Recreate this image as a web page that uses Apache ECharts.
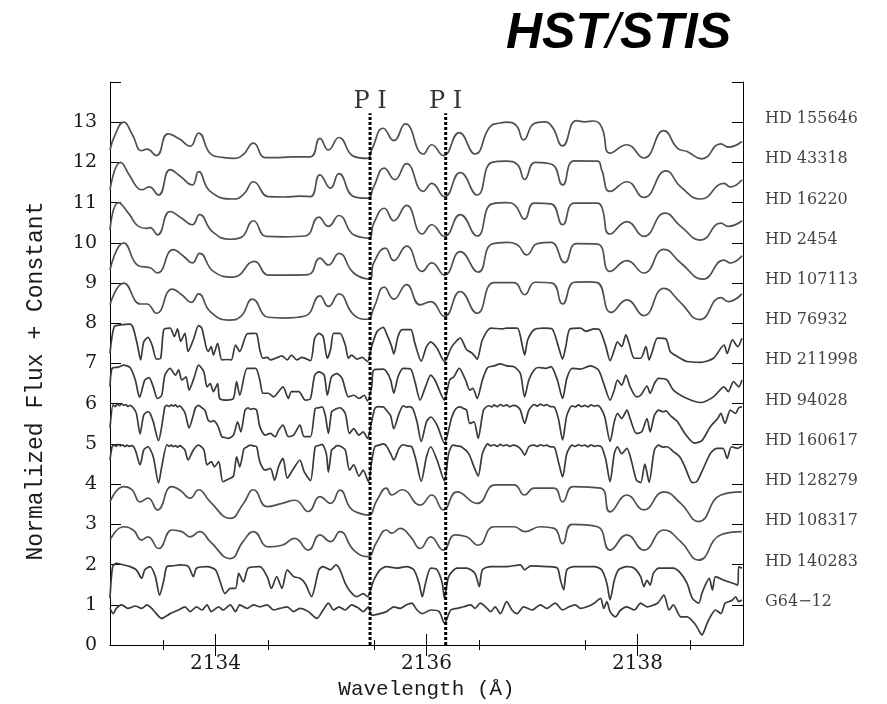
<!DOCTYPE html>
<html>
<head>
<meta charset="utf-8">
<script src="https://cdn.jsdelivr.net/npm/echarts@6/dist/echarts.min.js"></script>
<style>
  html, body { margin: 0; padding: 0; background: #fff; }
  #chart { width: 887px; height: 704px; }
</style>
</head>
<body>
<div id="chart"></div>
<script>
// Normalized flux spectra, [wavelength (Å), flux], shifted upward by a constant per star.
const stars = ['HD 155646', 'HD 43318', 'HD 16220', 'HD 2454', 'HD 107113', 'HD 76932',
  'HD 211998', 'HD 94028', 'HD 160617', 'HD 128279', 'HD 108317', 'HD 140283', 'G64\u221212'];
const offsets = [12, 11, 10, 9, 8, 7, 6, 5, 4, 3, 2, 1, 0];

// Wavelengths of the two P I lines
const pLines = [2135.465, 2136.182];
const pLineTop = 13.22;
const pLabel = 'P I';

const xTickLabels = [2134, 2136, 2138];

const hd155646 = [[2133.00,.31],[2133.05,.70],[2133.13,1.00],[2133.21,.70],[2133.30,.29],[2133.35,.33],[2133.44,.17],[2133.55,.71],[2133.66,.58],[2133.76,.40],[2133.84,.73],[2133.96,.20],[2134.08,.12],[2134.17,.10],[2134.26,.19],[2134.36,.48],[2134.47,.12],[2134.60,.12],[2134.75,.14],[2134.90,.14],[2134.99,.60],[2135.07,.31],[2135.17,.62],[2135.31,.15],[2135.44,.10],[2135.48,.31],[2135.59,.85],[2135.69,.54],[2135.80,.96],[2135.97,.21],[2136.05,.44],[2136.16,.17],[2136.31,.74],[2136.46,.21],[2136.61,.91],[2136.70,.98],[2136.76,1.00],[2136.85,.92],[2136.92,.56],[2137.02,.97],[2137.11,1.01],[2137.19,.89],[2137.29,.41],[2137.42,1.04],[2137.50,1.01],[2137.58,1.03],[2137.66,.88],[2137.74,.23],[2137.90,.44],[2138.06,.11],[2138.25,.79],[2138.38,.35],[2138.47,.27],[2138.61,.09],[2138.79,.46],[2138.86,.38],[2138.99,.52]];

const hd43318 = [[2133.00,.32],[2133.10,1.00],[2133.18,.70],[2133.25,.40],[2133.30,.32],[2133.37,.39],[2133.46,.19],[2133.57,.82],[2133.66,.67],[2133.78,.44],[2133.84,.77],[2133.95,.28],[2134.17,.09],[2134.27,.22],[2134.36,.52],[2134.50,.15],[2134.65,.14],[2134.80,.16],[2134.90,.15],[2134.99,.69],[2135.09,.36],[2135.17,.72],[2135.31,.15],[2135.44,.11],[2135.50,.40],[2135.60,.86],[2135.70,.57],[2135.81,.97],[2135.97,.28],[2136.05,.48],[2136.17,.15],[2136.32,.75],[2136.48,.19],[2136.62,1.00],[2136.76,1.03],[2136.86,.95],[2136.93,.58],[2137.03,1.00],[2137.19,.95],[2137.29,.44],[2137.40,1.04],[2137.62,1.03],[2137.66,.82],[2137.74,.28],[2137.90,.52],[2138.06,.13],[2138.27,.79],[2138.41,.39],[2138.60,.09],[2138.82,.48],[2138.88,.39],[2138.99,.57]];

const hd16220 = [[2133.00,.32],[2133.08,1.00],[2133.18,.72],[2133.27,.41],[2133.35,.36],[2133.38,.38],[2133.45,.20],[2133.57,.78],[2133.68,.61],[2133.78,.45],[2133.85,.70],[2133.97,.28],[2134.14,.09],[2134.24,.13],[2134.36,.55],[2134.48,.16],[2134.65,.15],[2134.85,.17],[2134.98,.64],[2135.07,.41],[2135.17,.68],[2135.31,.20],[2135.45,.12],[2135.50,.49],[2135.60,.86],[2135.69,.55],[2135.81,.93],[2135.96,.22],[2136.05,.45],[2136.17,.16],[2136.32,.70],[2136.48,.17],[2136.62,.97],[2136.76,1.00],[2136.84,.93],[2136.93,.59],[2137.02,.99],[2137.18,.97],[2137.29,.45],[2137.40,.99],[2137.62,.99],[2137.66,.90],[2137.74,.22],[2137.90,.53],[2138.06,.16],[2138.26,.74],[2138.41,.41],[2138.60,.07],[2138.79,.49],[2138.86,.41],[2138.99,.55]];

const hd2454 = [[2133.00,.33],[2133.13,1.00],[2133.27,.43],[2133.38,.38],[2133.45,.25],[2133.60,.83],[2133.70,.66],[2133.78,.50],[2133.85,.74],[2133.98,.29],[2134.17,.15],[2134.37,.54],[2134.50,.20],[2134.70,.20],[2134.88,.21],[2134.99,.62],[2135.07,.45],[2135.17,.74],[2135.31,.25],[2135.46,.10],[2135.50,.50],[2135.61,.87],[2135.69,.56],[2135.81,.92],[2135.96,.29],[2136.05,.50],[2136.17,.20],[2136.32,.78],[2136.49,.27],[2136.62,.97],[2136.76,1.01],[2136.86,.95],[2136.95,.70],[2137.05,.98],[2137.18,1.01],[2137.31,.51],[2137.42,.98],[2137.62,.97],[2137.74,.29],[2137.90,.56],[2138.06,.25],[2138.25,.84],[2138.41,.50],[2138.62,.10],[2138.82,.57],[2138.88,.50],[2138.99,.68]];

const hd107113 = [[2133.00,.46],[2133.13,1.00],[2133.29,.48],[2133.35,.48],[2133.44,.25],[2133.59,.85],[2133.68,.71],[2133.77,.52],[2133.84,.73],[2133.95,.29],[2134.13,.08],[2134.24,.17],[2134.35,.60],[2134.50,.15],[2134.65,.13],[2134.85,.18],[2134.99,.68],[2135.07,.42],[2135.17,.73],[2135.31,.21],[2135.44,.10],[2135.50,.38],[2135.60,.90],[2135.69,.60],[2135.81,.96],[2135.94,.46],[2136.04,.54],[2136.17,.17],[2136.32,.79],[2136.48,.25],[2136.64,1.01],[2136.83,1.01],[2136.93,.71],[2137.03,1.02],[2137.19,1.00],[2137.29,.48],[2137.40,1.02],[2137.53,1.03],[2137.62,1.01],[2137.75,.27],[2137.90,.58],[2138.06,.19],[2138.25,.87],[2138.40,.54],[2138.59,.09],[2138.79,.64],[2138.86,.54],[2138.99,.73]];

const hd76932 = [[2133.00,.26],[2133.04,.92],[2133.10,.96],[2133.19,.98],[2133.22,.88],[2133.26,.46],[2133.29,.09],[2133.32,.54],[2133.36,.65],[2133.40,.45],[2133.44,.11],[2133.48,.13],[2133.51,.84],[2133.57,.88],[2133.61,.67],[2133.64,.86],[2133.67,.55],[2133.71,.75],[2133.74,.30],[2133.79,.59],[2133.84,.94],[2133.87,.88],[2133.91,.42],[2133.93,.30],[2133.96,.42],[2133.98,.21],[2134.02,.50],[2134.06,.09],[2134.11,.10],[2134.15,.09],[2134.19,.46],[2134.23,.30],[2134.30,.74],[2134.36,.75],[2134.39,.74],[2134.42,.34],[2134.45,.13],[2134.49,.15],[2134.52,.09],[2134.57,.13],[2134.63,.19],[2134.68,.09],[2134.72,.21],[2134.77,.09],[2134.82,.15],[2134.90,.07],[2134.94,.63],[2134.98,.75],[2135.02,.67],[2135.06,.13],[2135.09,.34],[2135.12,.75],[2135.18,.75],[2135.23,.46],[2135.26,.13],[2135.29,.21],[2135.34,.11],[2135.39,.15],[2135.44,.05],[2135.48,.42],[2135.53,.79],[2135.59,.90],[2135.62,.75],[2135.67,.42],[2135.69,.24],[2135.73,.67],[2135.77,.84],[2135.85,.84],[2135.89,.50],[2135.95,.06],[2136.00,.42],[2136.04,.54],[2136.10,.38],[2136.17,.05],[2136.24,.42],[2136.32,.63],[2136.38,.34],[2136.42,.28],[2136.45,.21],[2136.48,.11],[2136.53,.59],[2136.61,.88],[2136.72,.86],[2136.76,.88],[2136.86,.88],[2136.91,.42],[2136.93,.21],[2136.96,.59],[2137.02,.84],[2137.11,.88],[2137.19,.86],[2137.25,.42],[2137.29,.11],[2137.32,.42],[2137.36,.86],[2137.46,.88],[2137.51,.80],[2137.59,.86],[2137.64,.84],[2137.70,.42],[2137.74,.07],[2137.78,.34],[2137.81,.54],[2137.85,.42],[2137.89,.71],[2137.92,.50],[2137.97,.13],[2138.03,.13],[2138.08,.42],[2138.11,.09],[2138.14,.30],[2138.19,.63],[2138.27,.61],[2138.31,.30],[2138.38,.17],[2138.47,.05],[2138.60,.03],[2138.72,.13],[2138.82,.46],[2138.85,.25],[2138.90,.59],[2138.95,.42],[2138.99,.63]];

const hd211998 = [[2133.00,.42],[2133.02,.88],[2133.08,.91],[2133.13,.96],[2133.19,.90],[2133.24,.59],[2133.28,.16],[2133.33,.59],[2133.37,.65],[2133.41,.42],[2133.45,.13],[2133.49,.21],[2133.52,.71],[2133.57,.88],[2133.62,.71],[2133.65,.84],[2133.68,.59],[2133.72,.67],[2133.75,.34],[2133.80,.67],[2133.84,.96],[2133.89,.79],[2133.92,.42],[2133.95,.50],[2133.98,.30],[2134.02,.50],[2134.04,.13],[2134.11,.09],[2134.17,.13],[2134.20,.55],[2134.23,.21],[2134.30,.88],[2134.38,.88],[2134.42,.59],[2134.45,.26],[2134.50,.26],[2134.55,.17],[2134.64,.42],[2134.69,.13],[2134.72,.30],[2134.79,.30],[2134.85,.09],[2134.90,.13],[2134.94,.71],[2134.98,.79],[2135.03,.71],[2135.06,.21],[2135.10,.67],[2135.15,.75],[2135.20,.63],[2135.26,.17],[2135.31,.21],[2135.36,.13],[2135.41,.21],[2135.44,.07],[2135.48,.42],[2135.50,.84],[2135.59,.86],[2135.62,.80],[2135.66,.59],[2135.69,.26],[2135.73,.67],[2135.78,.88],[2135.85,.86],[2135.89,.55],[2135.94,.09],[2135.99,.42],[2136.04,.71],[2136.08,.59],[2136.17,.09],[2136.22,.59],[2136.26,.67],[2136.31,.88],[2136.37,.59],[2136.41,.34],[2136.44,.38],[2136.48,.13],[2136.53,.59],[2136.58,.90],[2136.64,.94],[2136.70,.99],[2136.76,.94],[2136.83,.92],[2136.89,.75],[2136.93,.17],[2136.97,.59],[2137.02,.84],[2137.06,.90],[2137.13,.88],[2137.18,.92],[2137.24,.59],[2137.29,.13],[2137.33,.63],[2137.38,.88],[2137.46,.86],[2137.55,.94],[2137.63,.84],[2137.68,.50],[2137.74,.09],[2137.78,.34],[2137.81,.59],[2137.85,.46],[2137.89,.71],[2137.93,.42],[2137.99,.17],[2138.03,.21],[2138.09,.44],[2138.12,.26],[2138.16,.50],[2138.20,.63],[2138.28,.59],[2138.34,.34],[2138.47,.13],[2138.60,.03],[2138.72,.17],[2138.82,.42],[2138.86,.30],[2138.91,.55],[2138.96,.42],[2138.99,.59]];

const hd94028 = [[2133.00,.40],[2133.03,.97],[2133.05,.93],[2133.07,.99],[2133.09,.95],[2133.11,1.00],[2133.13,.96],[2133.15,.98],[2133.17,.93],[2133.19,.96],[2133.22,.90],[2133.25,.76],[2133.285,.25],[2133.32,.72],[2133.36,.80],[2133.38,.76],[2133.41,.55],[2133.46,.08],[2133.49,.43],[2133.52,.92],[2133.54,.96],[2133.56,.93],[2133.58,.97],[2133.60,.94],[2133.62,.97],[2133.64,.92],[2133.66,.95],[2133.68,.90],[2133.71,.78],[2133.75,.40],[2133.79,.72],[2133.81,.90],[2133.84,.96],[2133.87,.90],[2133.90,.84],[2133.93,.59],[2133.96,.55],[2133.98,.58],[2134.01,.51],[2134.03,.40],[2134.06,.18],[2134.09,.16],[2134.12,.14],[2134.17,.22],[2134.21,.55],[2134.24,.30],[2134.28,.84],[2134.31,.90],[2134.33,.86],[2134.36,.88],[2134.39,.84],[2134.42,.43],[2134.47,.22],[2134.52,.26],[2134.565,.18],[2134.60,.35],[2134.64,.47],[2134.69,.18],[2134.74,.22],[2134.80,.47],[2134.84,.18],[2134.90,.18],[2134.945,.88],[2134.98,.90],[2135.01,.92],[2135.04,.72],[2135.07,.26],[2135.10,.80],[2135.12,.84],[2135.15,.88],[2135.18,.90],[2135.23,.76],[2135.27,.26],[2135.31,.38],[2135.36,.22],[2135.40,.30],[2135.44,.14],[2135.48,.55],[2135.51,.88],[2135.54,.93],[2135.56,.92],[2135.59,.92],[2135.62,.84],[2135.66,.70],[2135.69,.38],[2135.74,.76],[2135.78,.95],[2135.81,.91],[2135.84,.93],[2135.87,.88],[2135.91,.55],[2135.95,.06],[2136.00,.55],[2136.04,.67],[2136.10,.47],[2136.17,.02],[2136.24,.67],[2136.28,.88],[2136.32,.92],[2136.35,.88],[2136.38,.84],[2136.41,.51],[2136.45,.55],[2136.49,.14],[2136.54,.84],[2136.59,.95],[2136.62,.92],[2136.64,.97],[2136.67,.93],[2136.70,.98],[2136.73,.94],[2136.76,.97],[2136.79,.92],[2136.82,.96],[2136.86,.93],[2136.89,.84],[2136.93,.51],[2136.97,.84],[2137.02,.98],[2137.05,.94],[2137.08,.99],[2137.11,.95],[2137.14,.98],[2137.17,.93],[2137.21,.92],[2137.25,.63],[2137.29,.10],[2137.33,.71],[2137.38,.95],[2137.41,.92],[2137.44,.97],[2137.47,.93],[2137.50,.96],[2137.53,.92],[2137.56,.97],[2137.59,.94],[2137.62,.96],[2137.65,.90],[2137.69,.67],[2137.74,.06],[2137.78,.55],[2137.81,.76],[2137.85,.63],[2137.90,.84],[2137.93,.63],[2137.99,.26],[2138.04,.30],[2138.09,.63],[2138.12,.30],[2138.16,.71],[2138.20,.84],[2138.24,.80],[2138.27,.82],[2138.31,.71],[2138.35,.62],[2138.38,.55],[2138.46,.22],[2138.54,.02],[2138.61,.08],[2138.69,.43],[2138.76,.63],[2138.79,.76],[2138.83,.51],[2138.88,.84],[2138.93,.76],[2138.96,.90],[2138.99,.92]];

const hd160617 = [[2133.00,.60],[2133.02,.93],[2133.04,.97],[2133.06,.94],[2133.08,.99],[2133.10,.95],[2133.12,.98],[2133.14,.93],[2133.16,.97],[2133.18,.94],[2133.21,.96],[2133.24,.85],[2133.285,.48],[2133.32,.85],[2133.36,.93],[2133.41,.68],[2133.46,.03],[2133.49,.43],[2133.54,.98],[2133.56,.94],[2133.58,.97],[2133.60,.93],[2133.62,.96],[2133.64,.92],[2133.66,.96],[2133.68,.93],[2133.71,.85],[2133.74,.60],[2133.79,.85],[2133.84,.97],[2133.89,.85],[2133.92,.48],[2133.96,.56],[2133.99,.43],[2134.03,.56],[2134.07,.06],[2134.12,.12],[2134.17,.20],[2134.20,.68],[2134.23,.43],[2134.27,.88],[2134.30,.93],[2134.33,.97],[2134.36,.95],[2134.39,.93],[2134.42,.56],[2134.47,.35],[2134.52,.39],[2134.56,.10],[2134.60,.45],[2134.64,.64],[2134.68,.15],[2134.74,.39],[2134.80,.60],[2134.84,.31],[2134.90,.09],[2134.945,.93],[2134.98,.96],[2135.01,.99],[2135.05,.76],[2135.07,.30],[2135.10,.85],[2135.12,.89],[2135.15,.96],[2135.18,.95],[2135.23,.85],[2135.27,.35],[2135.31,.48],[2135.36,.20],[2135.40,.35],[2135.45,.06],[2135.48,.56],[2135.51,.93],[2135.55,.97],[2135.59,1.00],[2135.62,.95],[2135.66,.76],[2135.69,.60],[2135.74,.89],[2135.78,.98],[2135.82,.95],[2135.86,.93],[2135.90,.60],[2135.95,.07],[2136.00,.68],[2136.04,.93],[2136.10,.60],[2136.17,.08],[2136.21,.76],[2136.25,.97],[2136.29,.95],[2136.33,.93],[2136.40,.76],[2136.45,.43],[2136.49,.20],[2136.53,.76],[2136.58,1.00],[2136.61,.95],[2136.64,.98],[2136.67,.94],[2136.70,.99],[2136.73,.95],[2136.76,.98],[2136.79,.94],[2136.82,.97],[2136.86,.94],[2136.90,.85],[2136.93,.72],[2136.97,.93],[2137.02,.97],[2137.05,.94],[2137.08,.98],[2137.11,.95],[2137.14,.97],[2137.17,.93],[2137.21,.92],[2137.25,.56],[2137.29,.18],[2137.33,.76],[2137.38,.97],[2137.41,.94],[2137.44,.98],[2137.47,.95],[2137.50,.97],[2137.53,.93],[2137.56,.98],[2137.59,.94],[2137.62,.96],[2137.66,.92],[2137.70,.60],[2137.74,.06],[2137.78,.76],[2137.81,.93],[2137.85,.76],[2137.90,.89],[2137.94,.60],[2137.99,.10],[2138.03,.04],[2138.07,.50],[2138.11,.05],[2138.16,.85],[2138.20,.97],[2138.24,.92],[2138.28,.93],[2138.34,.81],[2138.40,.68],[2138.45,.43],[2138.52,.04],[2138.56,.06],[2138.61,.31],[2138.69,.76],[2138.75,.89],[2138.81,.89],[2138.85,.64],[2138.89,.93],[2138.95,.89],[2138.99,.95]];

const hd128279 = [[2133.00,.56],[2133.13,.94],[2133.21,.86],[2133.285,.56],[2133.36,.65],[2133.45,.36],[2133.585,.94],[2133.664,.85],[2133.76,.65],[2133.84,.86],[2133.95,.56],[2134.14,.15],[2134.265,.52],[2134.36,.86],[2134.49,.44],[2134.63,.52],[2134.755,.60],[2134.88,.32],[2134.99,.69],[2135.09,.52],[2135.18,.85],[2135.28,.40],[2135.36,.28],[2135.45,.23],[2135.53,.60],[2135.62,.90],[2135.67,.73],[2135.77,.86],[2135.94,.48],[2136.05,.73],[2136.16,.36],[2136.29,.81],[2136.48,.52],[2136.65,.98],[2136.83,.98],[2136.93,.73],[2137.02,.90],[2137.21,.90],[2137.29,.56],[2137.39,.94],[2137.65,.90],[2137.74,.31],[2137.90,.73],[2138.06,.36],[2138.25,.81],[2138.41,.52],[2138.58,.07],[2138.79,.73],[2138.99,.81]];

const hd108317 = [[2133.00,.61],[2133.13,.94],[2133.22,.86],[2133.30,.61],[2133.36,.69],[2133.46,.40],[2133.59,.86],[2133.68,.82],[2133.76,.69],[2133.85,.82],[2133.95,.57],[2134.14,.15],[2134.26,.57],[2134.36,.82],[2134.50,.44],[2134.63,.48],[2134.75,.65],[2134.88,.36],[2134.99,.74],[2135.09,.57],[2135.18,.82],[2135.31,.36],[2135.44,.20],[2135.53,.57],[2135.62,.86],[2135.67,.78],[2135.75,.90],[2135.85,.69],[2135.94,.40],[2136.04,.69],[2136.16,.36],[2136.27,.74],[2136.38,.69],[2136.49,.48],[2136.64,.94],[2136.83,.94],[2136.93,.82],[2137.08,.94],[2137.21,.90],[2137.29,.52],[2137.38,1.00],[2137.62,.94],[2137.74,.36],[2137.90,.74],[2138.06,.36],[2138.25,.86],[2138.41,.57],[2138.58,.11],[2138.79,.74],[2138.99,.82]];

const hd140283 = [[2133.00,.16],[2133.025,.95],[2133.06,1.03],[2133.13,.99],[2133.19,.95],[2133.25,.87],[2133.30,.66],[2133.33,.87],[2133.38,.95],[2133.43,.70],[2133.47,.24],[2133.51,.61],[2133.54,.95],[2133.60,.97],[2133.664,.99],[2133.743,.95],[2133.79,.70],[2133.82,.91],[2133.92,.95],[2134.00,.87],[2134.04,.61],[2134.09,.28],[2134.14,.41],[2134.19,.41],[2134.22,.78],[2134.265,.57],[2134.31,.91],[2134.42,.95],[2134.49,.70],[2134.53,.41],[2134.58,.70],[2134.63,.41],[2134.68,.87],[2134.74,.70],[2134.80,.66],[2134.85,.53],[2134.91,.20],[2134.98,.87],[2135.02,.95],[2135.09,.87],[2135.14,.99],[2135.18,.87],[2135.23,.53],[2135.28,.32],[2135.34,.20],[2135.40,.28],[2135.44,.20],[2135.50,.61],[2135.56,.87],[2135.62,.95],[2135.72,.91],[2135.81,.95],[2135.88,.87],[2135.93,.53],[2135.96,.20],[2135.99,.53],[2136.04,.91],[2136.10,.87],[2136.15,.53],[2136.17,.16],[2136.21,.70],[2136.29,.91],[2136.38,.91],[2136.46,.78],[2136.50,.45],[2136.53,.87],[2136.61,.95],[2136.76,.95],[2136.89,.99],[2136.93,.87],[2136.99,.97],[2137.14,.95],[2137.24,.91],[2137.27,.61],[2137.30,.37],[2137.33,.87],[2137.40,.95],[2137.59,.95],[2137.66,.87],[2137.71,.53],[2137.74,.12],[2137.78,.61],[2137.82,.87],[2137.90,.95],[2137.97,.91],[2138.03,.70],[2138.06,.45],[2138.09,.61],[2138.12,.49],[2138.15,.78],[2138.20,.91],[2138.34,.91],[2138.41,.78],[2138.47,.53],[2138.52,.16],[2138.58,.04],[2138.61,.28],[2138.65,.53],[2138.68,.66],[2138.71,.37],[2138.74,.70],[2138.82,.61],[2138.91,.53],[2138.95,.49],[2138.96,.95],[2138.99,.91]];

const g64_12 = [[2133.00,.91],[2133.03,.78],[2133.06,.91],[2133.11,1.00],[2133.17,.91],[2133.24,.97],[2133.30,.91],[2133.35,1.00],[2133.41,.87],[2133.49,.66],[2133.57,.78],[2133.65,.87],[2133.71,.95],[2133.76,.83],[2133.82,.95],[2133.87,.87],[2133.92,1.00],[2133.96,.83],[2134.03,.95],[2134.07,.87],[2134.14,1.00],[2134.19,.83],[2134.23,1.00],[2134.30,.91],[2134.36,1.00],[2134.42,.95],[2134.49,1.00],[2134.55,.87],[2134.61,.91],[2134.68,.95],[2134.74,.83],[2134.80,.91],[2134.88,.83],[2134.96,.66],[2135.02,.87],[2135.07,1.04],[2135.12,.87],[2135.17,.95],[2135.23,.87],[2135.29,1.00],[2135.36,.91],[2135.40,.83],[2135.45,.95],[2135.48,.74],[2135.56,.78],[2135.62,.83],[2135.69,.95],[2135.75,.91],[2135.81,1.00],[2135.86,1.04],[2135.91,.87],[2135.96,.78],[2136.04,.87],[2136.12,.83],[2136.17,.54],[2136.23,.87],[2136.29,.91],[2136.35,.95],[2136.42,1.00],[2136.46,.91],[2136.51,1.04],[2136.56,.95],[2136.61,.83],[2136.65,.95],[2136.70,.78],[2136.76,1.08],[2136.81,.87],[2136.86,.78],[2136.92,.95],[2137.00,.87],[2137.08,1.00],[2137.14,.91],[2137.22,1.04],[2137.29,.87],[2137.35,.95],[2137.41,1.00],[2137.46,.91],[2137.52,.95],[2137.59,1.04],[2137.65,1.16],[2137.68,.91],[2137.71,1.08],[2137.74,.83],[2137.79,.70],[2137.84,.87],[2137.90,.95],[2137.97,.87],[2138.03,1.04],[2138.09,.95],[2138.19,1.04],[2138.25,1.24],[2138.30,.87],[2138.34,1.00],[2138.41,.70],[2138.47,.70],[2138.54,.54],[2138.58,.37],[2138.61,.25],[2138.66,.54],[2138.69,.70],[2138.74,.87],[2138.79,.78],[2138.83,1.04],[2138.87,1.08],[2138.90,1.12],[2138.93,1.20],[2138.96,1.08],[2138.99,1.12]];

const spectra = [hd155646, hd43318, hd16220, hd2454, hd107113, hd76932,
  hd211998, hd94028, hd160617, hd128279, hd108317, hd140283, g64_12];
// Spectra with narrow lines get less curve smoothing
const sharp = [false, false, false, false, false, true, true, true, true, false, false, true, true];

const serif = '"DejaVu Serif", "Liberation Serif", serif';
const mono = '"Liberation Mono", "DejaVu Sans Mono", monospace';
const ink = '#1a1a1a';

const chart = echarts.init(document.getElementById('chart'), null, { renderer: 'canvas' });

const spectrumSeries = spectra.map((pts, i) => ({
  type: 'line',
  name: stars[i],
  data: pts.map(p => [p[0], p[1] + offsets[i]]),
  showSymbol: false,
  symbol: 'none',
  smooth: sharp[i] ? 0.25 : 0.5,
  clip: true,
  lineStyle: { color: sharp[i] ? '#3a3a3a' : '#505050', width: 1.7 },
  silent: true,
  z: 2
}));

const pLineSeries = pLines.map(w => ({
  type: 'line',
  data: [[w, 0], [w, pLineTop]],
  symbol: 'none',
  showSymbol: false,
  lineStyle: { color: '#000', width: 3, type: [3, 2] },
  silent: true,
  z: 5
}));

// Line identifications above the dotted markers
const pLabelSeries = {
  type: 'scatter',
  data: pLines.map(w => [w, pLineTop]),
  symbolSize: 0,
  clip: false,
  silent: true,
  label: {
    show: true, position: 'top', distance: 0, formatter: pLabel,
    fontFamily: serif, fontSize: 24, color: '#000'
  }
};

// Star names to the right of the frame
const labelSeries = {
  type: 'scatter',
  data: offsets.map(o => [2139, o + 1.08]),
  symbolSize: 0,
  clip: false,
  silent: true,
  label: {
    show: true, position: 'right', distance: 22,
    formatter: p => stars[p.dataIndex],
    fontFamily: serif, fontSize: 16, color: '#111'
  }
};

const frameAxis = (extra) => Object.assign({
  type: 'value',
  axisLine: { show: true, lineStyle: { color: '#000', width: 1 } },
  splitLine: { show: false },
}, extra);

chart.setOption({
  animation: false,
  backgroundColor: '#fff',
  title: {
    text: '{a|HST}{s|/}{a|STIS}',
    left: 501, top: 4,
    textStyle: {
      rich: {
        a: { fontFamily: '"Liberation Sans", Arial, sans-serif', fontWeight: 'bold', fontStyle: 'italic', fontSize: 50, color: '#000' },
        s: { fontFamily: '"Liberation Sans", Arial, sans-serif', fontWeight: 'normal', fontStyle: 'italic', fontSize: 50, color: '#000' }
      }
    }
  },
  grid: { left: 110, right: 144, top: 82, bottom: 59, containLabel: false, outerBoundsMode: 'none' },
  xAxis: [
    frameAxis({
      position: 'bottom', min: 2133, max: 2139, interval: 1,
      name: 'Wavelength (\u00c5)', nameLocation: 'middle', nameGap: 33,
      nameTextStyle: { fontFamily: mono, fontSize: 21, color: ink },
      axisTick: { show: true, inside: true, length: 11, lineStyle: { color: '#000' }, customValues: xTickLabels },
      minorTick: { show: true, splitNumber: 2, length: 5, lineStyle: { color: '#000' } },
      axisLabel: { show: true, customValues: xTickLabels, margin: 9, fontFamily: serif, fontSize: 20, color: ink, formatter: v => String(v) }
    }),
    frameAxis({
      position: 'top', min: 2133, max: 2139, interval: 1,
      axisTick: { show: true, inside: true, length: 11, lineStyle: { color: '#000' }, customValues: xTickLabels },
      minorTick: { show: true, splitNumber: 2, length: 5, lineStyle: { color: '#000' } },
      axisLabel: { show: false }
    })
  ],
  yAxis: [
    frameAxis({
      position: 'left', min: 0, max: 14, interval: 1,
      axisTick: { show: true, inside: true, length: 11, lineStyle: { color: '#000' } },
      axisLabel: { show: true, margin: 13, fontFamily: serif, fontSize: 19, color: ink,
        formatter: v => (v === 14 ? '' : String(v)) }
    }),
    frameAxis({
      position: 'right', min: 0, max: 14, interval: 1,
      axisTick: { show: true, inside: true, length: 11, lineStyle: { color: '#000' } },
      axisLabel: { show: false }
    })
  ],
  graphic: [{
    type: 'text', x: 36, y: 381, rotation: Math.PI / 2,
    style: { text: 'Normalized Flux + Constant', font: '23px ' + mono, fill: ink,
      textAlign: 'center', textVerticalAlign: 'middle' }
  }],
  series: spectrumSeries.concat(pLineSeries, [pLabelSeries, labelSeries])
});
</script>
</body>
</html>
